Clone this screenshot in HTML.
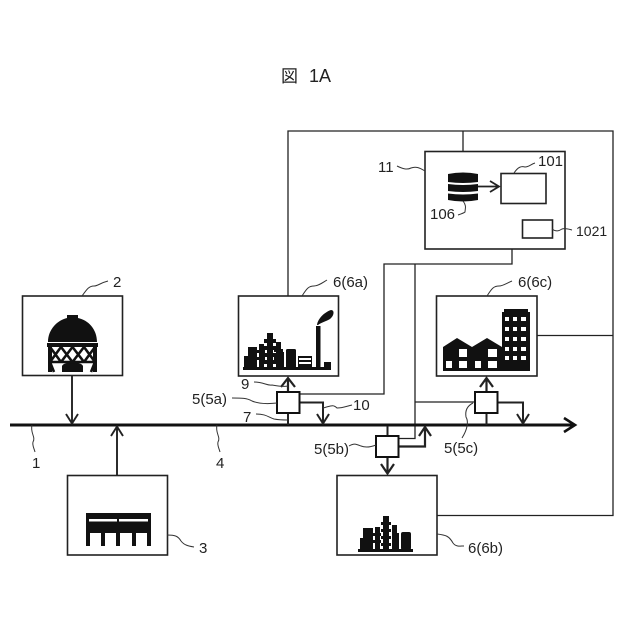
<!DOCTYPE html>
<html><head><meta charset="utf-8"><style>
html,body{margin:0;padding:0;background:#fff}
svg{display:block}
text{font-family:"Liberation Sans","Noto Sans CJK JP",sans-serif;font-size:15px;fill:#222}
</style></head><body>
<svg width="640" height="640" viewBox="0 0 640 640" xmlns="http://www.w3.org/2000/svg">
<rect width="640" height="640" fill="#fff"/>
<text x="281" y="82" style="font-size:17px;font-family:'Noto Sans CJK JP',sans-serif">図</text>
<text x="309" y="82" style="font-size:18px">1A</text>

<!-- thin wires -->
<g fill="none" stroke="#222" stroke-width="1.3">
<path d="M288 296V131H613V515.5H437"/>
<path d="M463 131V172"/>
<path d="M537 335.5H613"/>
<path d="M512 203V264H384V394H299"/>
<path d="M415 264V438.500H399"/>
<path d="M415 402H475"/>
</g>

<!-- bus -->
<path d="M10 425H574" stroke="#111" stroke-width="3" fill="none"/>
<path d="M564 418L575 425L564 432" stroke="#111" stroke-width="2.600" fill="none"/>

<!-- boxes -->
<g fill="#fff" stroke="#222" stroke-width="1.600">
<rect x="22.500" y="296" width="100" height="79.500"/>
<rect x="67.500" y="475.500" width="100" height="79.500"/>
<rect x="238.500" y="296" width="100" height="80"/>
<rect x="436.500" y="296" width="100.500" height="80"/>
<rect x="337" y="475.500" width="100" height="79.500"/>
<rect x="425" y="151.500" width="140" height="97.500"/>
<rect x="501" y="173.500" width="45" height="30"/>
<rect x="522.500" y="220" width="30" height="18"/>
</g>

<!-- arrows -->
<g fill="none" stroke="#222" stroke-width="1.900">
<path d="M72 376V423M66 414L72 423.500L78 414"/>
<path d="M117 475V427M111 436L117 426.500L123 436"/>
<path d="M288 392V378.500M281 387L288 378L295 387" stroke-width="2.200"/>
<path d="M288 413V425" stroke-width="2"/>
<path d="M299 402.500H323V423M317 414L323 423.500L329 414" stroke-width="2"/>
<path d="M387.500 426V436" stroke-width="2"/>
<path d="M387.500 457V473M381 464L387.500 473.500L394 464" stroke-width="2.200"/>
<path d="M399 446.500H425V428M419 436L425 427L431 436" stroke-width="2.200"/>
<path d="M486.500 392V378.500M480 387L486.500 378L493 387" stroke-width="2.200"/>
<path d="M486.500 413V425" stroke-width="2"/>
<path d="M498 402.500H523V423M517 414L523 423.500L529 414" stroke-width="2"/>
<path d="M478 186.500H498M490 181L499 186.500L490 192" stroke-width="1.800"/>
</g>

<!-- sensor boxes -->
<g fill="#fff" stroke="#111" stroke-width="2">
<rect x="277" y="392" width="22.500" height="21"/>
<rect x="376" y="436" width="22.500" height="21"/>
<rect x="475" y="392" width="22.500" height="21"/>
</g>

<!-- database -->
<g fill="#111">
<path d="M448 174Q463 171 478 174V182Q463 184 448 182Z"/>
<path d="M448 184Q463 186 478 184V191Q463 193 448 191Z"/>
<path d="M448 193.500Q463 195.500 478 193.500V200Q463 203 448 200Z"/>
</g>

<!-- gas holder -->
<g>
<path d="M48 342C48 329 58 320 67 318V315H78V318C88 320 97 329 97 342Z" fill="#111"/>
<rect x="47" y="343" width="51" height="4" fill="#111"/>
<rect x="48" y="347" width="4" height="25" fill="#111"/>
<rect x="93" y="347" width="4" height="25" fill="#111"/>
<path d="M62 372V366C64 361 81 361 83 366V372Z" fill="#111"/>
<path d="M50 347L61 362M61 347L50 362M61 347L72.500 362M72.500 347L61 362M72.500 347L84 362M84 347L72.500 362M84 347L95 362M95 347L84 362M50 362H95M50 362L54 372M95 362L91 372" stroke="#111" stroke-width="2.600" fill="none"/>
</g>

<!-- power plant -->
<g fill="#111">
<rect x="86" y="513" width="65" height="20"/>
<rect x="86" y="533" width="4" height="13"/>
<rect x="101" y="533" width="4" height="13"/>
<rect x="116" y="533" width="4" height="13"/>
<rect x="132" y="533" width="4" height="13"/>
<rect x="147" y="533" width="4" height="13"/>
</g>
<rect x="89" y="519" width="28" height="2.500" fill="#fff"/>
<rect x="119" y="519" width="29" height="2.500" fill="#fff"/>

<!-- refinery 6a -->
<g fill="#111">
<rect x="243" y="367" width="88" height="3"/>
<rect x="244" y="356" width="5" height="12"/>
<rect x="248" y="347" width="9" height="21"/>
<rect x="259" y="344" width="5" height="24"/>
<rect x="257" y="350" width="8" height="3"/>
<rect x="257" y="357" width="8" height="3"/>
<rect x="267" y="333" width="6" height="35"/>
<rect x="264" y="339" width="12" height="4"/>
<rect x="264" y="346" width="12" height="4"/>
<rect x="264" y="353" width="12" height="4"/>
<rect x="264" y="360" width="12" height="4"/>
<rect x="276" y="342" width="5" height="26"/>
<rect x="274" y="349" width="9" height="3"/>
<rect x="274" y="357" width="9" height="3"/>
<rect x="281" y="352" width="3" height="16"/>
<rect x="286" y="349" width="10" height="19" rx="1.500"/>
<rect x="298" y="356" width="14" height="12"/>
<rect x="316" y="326" width="4.500" height="43"/>
<rect x="324" y="362" width="7" height="6"/>
<path d="M317 325C318 318 325 312 331 310C335 310 334 316 330 319C325 322 322 322 318 325Z"/>
</g>
<g fill="#fff">
<rect x="299" y="358" width="12" height="2"/>
<rect x="299" y="362" width="12" height="2"/>
</g>

<!-- refinery 6b -->
<g fill="#111">
<rect x="358" y="549" width="55" height="3"/>
<rect x="360" y="538" width="5" height="12"/>
<rect x="363" y="528" width="10" height="22"/>
<rect x="375" y="527" width="5" height="23"/>
<rect x="373" y="533" width="8" height="3"/>
<rect x="373" y="540" width="8" height="3"/>
<rect x="383" y="516" width="6" height="34"/>
<rect x="381" y="522" width="10" height="3"/>
<rect x="381" y="529" width="10" height="3"/>
<rect x="381" y="536" width="10" height="3"/>
<rect x="381" y="543" width="10" height="3"/>
<rect x="392" y="525" width="5" height="25"/>
<rect x="397" y="533" width="2" height="17"/>
<rect x="401" y="532" width="10" height="18" rx="2"/>
</g>

<!-- buildings 6c -->
<path d="M443 347L457 338L472 347L487 338L502 347V371H443Z" fill="#111"/>
<rect x="502" y="312" width="28" height="59" fill="#111"/>
<rect x="504" y="309" width="24" height="4" fill="#111"/>
<g fill="#fff">
<rect x="459" y="349" width="8" height="8"/><rect x="488" y="349" width="9" height="8"/>
<rect x="446" y="361" width="6" height="7"/><rect x="459" y="361" width="8" height="7"/>
<rect x="475" y="361" width="6" height="7"/><rect x="488" y="361" width="9" height="7"/>
<rect x="505" y="317" width="4" height="4"/><rect x="513" y="317" width="4" height="4"/><rect x="521" y="317" width="5" height="4"/>
<rect x="505" y="327" width="4" height="4"/><rect x="513" y="327" width="4" height="4"/><rect x="521" y="327" width="5" height="4"/>
<rect x="505" y="337" width="4" height="4"/><rect x="513" y="337" width="4" height="4"/><rect x="521" y="337" width="5" height="4"/>
<rect x="505" y="347" width="4" height="4"/><rect x="513" y="347" width="4" height="4"/><rect x="521" y="347" width="5" height="4"/>
<rect x="505" y="356" width="4" height="4"/><rect x="513" y="356" width="4" height="4"/><rect x="521" y="356" width="5" height="4"/>
</g>

<!-- leader lines -->
<g fill="none" stroke="#333" stroke-width="1">
<path d="M82 296C87 289 89 286 94 286C98 286 100 283 108 281"/>
<path d="M302 296C307 288 309 286 314 286C318 286 322 283 327 280"/>
<path d="M487 296C492 288 494 286 499 286C503 286 507 283 512 281"/>
<path d="M397 166C403 169 407 170 411 168C416 166 420 168 425 171"/>
<path d="M514 173C518 167 521 166 525 167C529 167 531 164 535 163"/>
<path d="M552 229C556 232 559 231 562 229C565 228 568 229 572 230"/>
<path d="M463 201C467 206 465 209 465 212C464 213 461 214 458 215"/>
<path d="M32 425C30 433 36 437 33 442C32 445 34 448 35 452"/>
<path d="M217 425C215 433 221 437 218 442C217 445 219 448 220 452"/>
<path d="M232 398C242 398 247 398 252 401C259 404 268 404 277 403"/>
<path d="M254 382C264 382 267 386 272 385C278 386 283 387 288 386"/>
<path d="M256 414C266 414 268 417 274 419C279 420 284 420 288 420"/>
<path d="M323 408C331 406 333 404 337 408C343 408 347 406 352 405"/>
<path d="M349 446C354 443 356 444 361 446C366 448 371 447 376 445"/>
<path d="M473 403C467 406 465 411 466 417C469 422 467 430 462 438"/>
<path d="M437 534C446 535 449 536 453 543C456 547 460 546 464 546"/>
<path d="M167 535C175 535 178 536 181 541C184 545 188 546 194 547"/>
</g>

<!-- labels -->
<text x="113" y="287">2</text>
<text x="333" y="287">6(6a)</text>
<text x="518" y="287">6(6c)</text>
<text x="378" y="172">11</text>
<text x="538" y="166">101</text>
<text x="430" y="219">106</text>
<text x="576" y="236" style="font-size:14px">1021</text>
<text x="192" y="404">5(5a)</text>
<text x="241" y="389">9</text>
<text x="243" y="422">7</text>
<text x="353" y="410">10</text>
<text x="314" y="454">5(5b)</text>
<text x="444" y="453">5(5c)</text>
<text x="32" y="468">1</text>
<text x="216" y="468">4</text>
<text x="199" y="553">3</text>
<text x="468" y="553">6(6b)</text>
</svg>
</body></html>
